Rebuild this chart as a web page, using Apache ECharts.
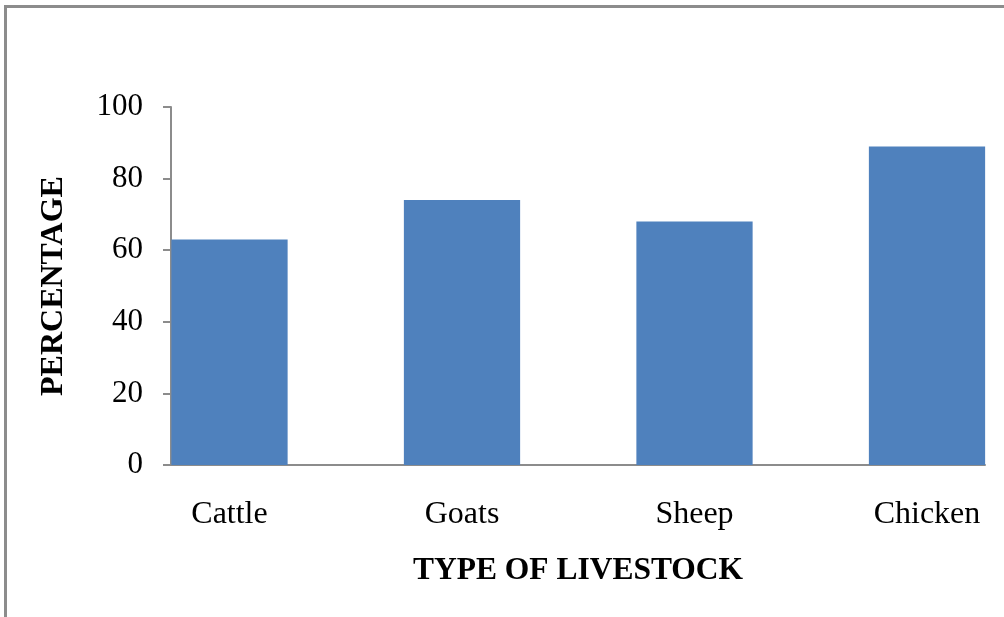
<!DOCTYPE html>
<html>
<head>
<meta charset="utf-8">
<script src="https://cdn.jsdelivr.net/npm/echarts@6/dist/echarts.min.js"></script>
<style>
html,body{margin:0;padding:0;background:#fff;}
#chart{width:1004px;height:617px;}
</style>
</head>
<body>
<div id="chart"></div>
<script>
const categories = ['Cattle', 'Goats', 'Sheep', 'Chicken'];
const percentages = [63, 74, 68, 89];
const yTicks = [0, 20, 40, 60, 80, 100];
const xAxisTitle = 'TYPE OF LIVESTOCK';
const yAxisTitle = 'PERCENTAGE';

const FONT = '"Liberation Serif", "Times New Roman", serif';
const chart = echarts.init(document.getElementById('chart'), null, {renderer: 'canvas'});

chart.setOption({
  animation: false,
  backgroundColor: '#fff',
  grid: [
    {left: 171, top: 107, width: 814, height: 358, containLabel: false, outerBoundsMode: 'none'},
    {left: 113.25, top: 107, width: 930, height: 358, containLabel: false, outerBoundsMode: 'none'}
  ],
  xAxis: [
    {
      gridIndex: 0, type: 'category', data: categories,
      axisLine: {show: true, lineStyle: {color: '#8c8c8c', width: 2}},
      axisTick: {show: false}, axisLabel: {show: false},
      splitLine: {show: false},
      name: xAxisTitle, nameLocation: 'middle', nameGap: 90,
      nameTextStyle: {fontFamily: FONT, fontSize: 31.5, fontWeight: 'bold', color: '#000'}
    },
    {
      gridIndex: 1, type: 'category', data: categories,
      axisLine: {show: false}, axisTick: {show: false},
      axisLabel: {show: true, margin: 34, fontFamily: FONT, fontSize: 32, color: '#000'},
      splitLine: {show: false}
    }
  ],
  yAxis: [
    {
      gridIndex: 0, type: 'value', min: yTicks[0], max: yTicks[yTicks.length - 1], interval: 20,
      axisLine: {show: true, lineStyle: {color: '#8c8c8c', width: 2}},
      axisTick: {show: true, length: 8, lineStyle: {color: '#8c8c8c', width: 2}},
      axisLabel: {margin: 28, fontFamily: FONT, fontSize: 31, color: '#000', padding: [3, 0, 0, 0]},
      splitLine: {show: false},
      name: yAxisTitle, nameLocation: 'middle', nameGap: 101, nameRotate: 90,
      nameTextStyle: {fontFamily: FONT, fontSize: 32, fontWeight: 'bold', color: '#000'}
    },
    {
      gridIndex: 1, type: 'value', min: yTicks[0], max: yTicks[yTicks.length - 1], interval: 20,
      show: false, splitLine: {show: false}
    }
  ],
  series: [{
    type: 'bar', xAxisIndex: 1, yAxisIndex: 1,
    data: percentages, barWidth: '50%',
    itemStyle: {color: '#4F81BD'}
  }],
  graphic: [
    {type: 'line', silent: true, shape: {x1: 4, y1: 6.5, x2: 1004, y2: 6.5}, style: {stroke: '#8c8c8c', lineWidth: 3}, z: 100},
    {type: 'line', silent: true, shape: {x1: 5.5, y1: 5, x2: 5.5, y2: 617}, style: {stroke: '#8c8c8c', lineWidth: 3}, z: 100}
  ]
});
</script>
</body>
</html>
